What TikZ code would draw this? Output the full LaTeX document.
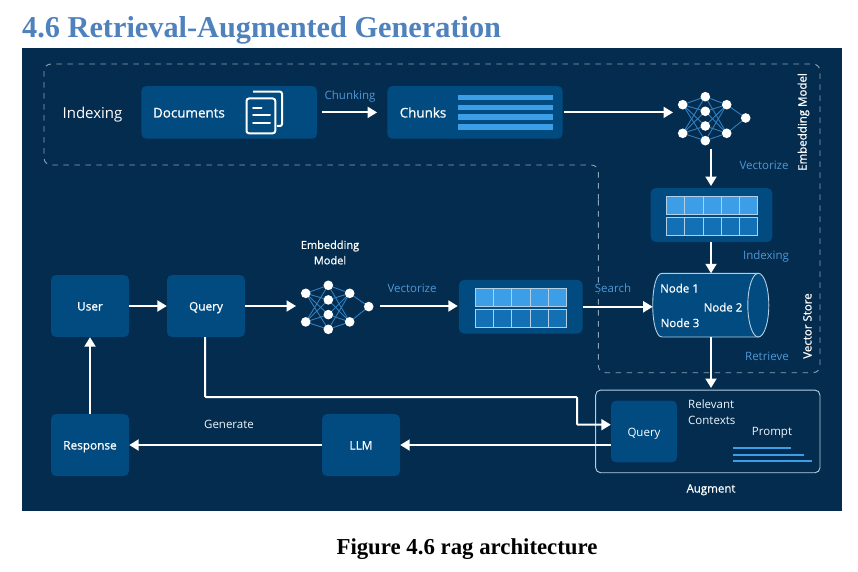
\documentclass[tikz,border=0pt]{standalone}
\usepackage{fontspec}
\setmainfont{Open Sans}
\newfontfamily\serifbold[BoldFont={Liberation Serif Bold}]{Liberation Serif}
\newfontfamily\semi[FakeBold=0.7]{Open Sans}
\usetikzlibrary{arrows.meta}
\definecolor{panelbg}{HTML}{042C4E}
\definecolor{boxblue}{HTML}{024B80}
\definecolor{barblue}{HTML}{3D9EE8}
\definecolor{rowblue}{HTML}{1470B5}
\definecolor{labelblue}{HTML}{4F97D7}
\definecolor{dashgrey}{HTML}{8AA3B5}
\definecolor{edgepale}{HTML}{B4CFE3}
\definecolor{netblue}{HTML}{2F7FC0}
\definecolor{titleblue}{HTML}{4F81BD}
\tikzset{
  x=1pt,y=-1pt,
  boxnode/.style={fill=boxblue,rounded corners=5pt,inner sep=0pt,text=white,font=\semi\fontsize{11.8}{14}\selectfont,align=center,text height=9pt,text depth=0pt},
  flow/.style={draw=white,line width=2pt,-{Triangle[length=9.5pt,width=11pt]}},
  tag/.style={text=labelblue,font=\fontsize{11.5}{14}\selectfont,inner sep=0pt,text height=9pt,text depth=0pt},
  whitetag/.style={text=white,font=\semi\fontsize{11.5}{14}\selectfont,inner sep=0pt,text height=9pt,text depth=0pt},
  bigtag/.style={whitetag,font=\semi\fontsize{13.4}{16}\selectfont},
  whitestack/.style={text=white,font=\semi\fontsize{11}{15.5}\selectfont,inner sep=0pt,align=center},
  paletag/.style={text=white!90!labelblue,font=\fontsize{11.5}{16}\selectfont,inner sep=0pt,align=left},
  dashline/.style={draw=dashgrey,line width=0.9pt,dash pattern=on 5.5pt off 5.5pt},
  neuron/.style={circle,fill=white,minimum size=9.6pt,inner sep=0pt},
  synapse/.style={draw=netblue,line width=0.9pt},
  cell/.style={draw=edgepale,line width=0.6pt,minimum width=18.06pt,minimum height=18pt,inner sep=0pt},
  bar/.style={fill=barblue,inner sep=0pt},
  pline/.style={draw=barblue,line width=2.2pt},
  docline/.style={draw=white,line width=2pt,line cap=round}
}
% net: prefix, dx, dy
\newcommand{\netdraw}[3]{%
  \begin{scope}[shift={(#2,#3)}]
    \coordinate (#1a1) at (682.7,104.7);
    \coordinate (#1a2) at (682.7,133.3);
    \coordinate (#1b1) at (705.3,96.7);
    \coordinate (#1b2) at (705.3,111.3);
    \coordinate (#1b3) at (705.3,126);
    \coordinate (#1b4) at (705.3,140.7);
    \coordinate (#1c1) at (726.7,104.7);
    \coordinate (#1c2) at (726.7,133.3);
    \coordinate (#1d) at (745.7,118);
    \foreach \i in {1,2}{\foreach \j in {1,2,3,4}{
      \draw[synapse] (#1a\i) -- (#1b\j);
      \draw[synapse] (#1b\j) -- (#1c\i);}
      \draw[synapse] (#1c\i) -- (#1d);}
    \foreach \n in {a1,a2,b1,b2,b3,b4,c1,c2,d}
      \node[neuron] (#1n\n) at (#1\n) {};
  \end{scope}}
% vector block: prefix, centre x of first cell, y first row centre, y second row centre
\newcommand{\cellrows}[4]{%
  \foreach \k in {0,1,2,3,4}{
    \node[cell,fill=barblue] (#1t\k) at ({#2+\k*18.06},#3) {};
    \node[cell,fill=rowblue] (#1u\k) at ({#2+\k*18.06},#4) {};}}
\begin{document}
\begin{tikzpicture}
\useasboundingbox (0,0) rectangle (858,572);
\fill[white] (0,0) rectangle (858,572);
\fill[panelbg] (22,48) rectangle (842,511);
\node[anchor=base west,inner sep=0pt,text=titleblue,font=\serifbold\bfseries\fontsize{30.3}{34}\selectfont] (title) at (22,38) {4.6 Retrieval-Augmented Generation};
\node[anchor=base,inner sep=0pt,text=black,font=\serifbold\bfseries\fontsize{22.8}{26}\selectfont] (caption) at (467,554) {Figure 4.6 rag architecture};
% dashed region
\draw[dashline,rounded corners=7pt] (598.3,200) -- (598.3,372.7) -- (820,372.7) -- (820,64) -- (44,64) -- (44,165) -- (598.3,165) [sharp corners] -- (598.3,200);
% boxes
\node[boxnode,minimum width=175.7pt,minimum height=52.7pt] (docs) at (229.2,112.4) {};
\node[boxnode,minimum width=175.4pt,minimum height=52.7pt] (chunks) at (475,112.4) {};
\node[boxnode,minimum width=121.6pt,minimum height=54pt] (vecA) at (711.5,215) {};
\node[boxnode,minimum width=123.7pt,minimum height=53.7pt] (vecB) at (520.8,306.8) {};
\node[boxnode,minimum width=78pt,minimum height=62pt] (user) at (90,306) {User};
\node[boxnode,minimum width=78pt,minimum height=62pt] (query) at (206,306) {Query};
\node[boxnode,minimum width=78pt,minimum height=62pt] (resp) at (90,445) {Response};
\node[boxnode,minimum width=78pt,minimum height=62pt] (llm) at (361,445) {LLM};
\node[draw=edgepale,line width=0.9pt,rounded corners=5pt,minimum width=224.3pt,minimum height=82.7pt,inner sep=0pt] (aug) at (707.8,431.4) {};
\node[boxnode,minimum width=66pt,minimum height=61.6pt,font=\fontsize{11.5}{14}\selectfont] (qinner) at (644,431.5) {Query};
% chunk bars
\foreach \yy/\nm in {97.3/a,107.3/b,117.2/c,127.2/d}
  \node[bar,minimum width=95pt,minimum height=5.4pt] (bar\nm) at (505.2,\yy) {};
% cells
\cellrows{va}{675.7}{205}{226.3}
\cellrows{vb}{484.7}{297}{318.5}
% document icon
\draw[white,line width=2pt,rounded corners=2pt] (253,91.7) -- (282,91.7) -- (282,126) -- (277,126);
\draw[white,line width=2pt,rounded corners=2.5pt] (246.5,98.5) rectangle (275.3,133.3);
\draw[docline] (253,108) -- (261.5,108);
\draw[docline] (253,115.3) -- (270,115.3);
\draw[docline] (253,122.7) -- (270,122.7);
% nets
\netdraw{p}{0}{0}
\netdraw{q}{-377}{188.6}
% cylinder
\draw[draw=edgepale,fill=boxblue,line width=0.9pt] (758.3,273.3) -- (662,273.3) .. controls (649.6,273.3) and (649.6,337) .. (662,337) -- (758.3,337) -- cycle;
\draw[draw=edgepale,fill=boxblue,line width=0.9pt] (758.3,305.15) ellipse [x radius=10.5pt,y radius=31.85pt];
\node[inner sep=0pt,minimum width=116pt,minimum height=63.7pt] (cyl) at (711,305.15) {};
% prompt lines
\coordinate (pa1) at (733,448); \coordinate (pa2) at (791.3,448);
\coordinate (pb1) at (733,454.7); \coordinate (pb2) at (803.7,454.7);
\coordinate (pc1) at (733,461.3); \coordinate (pc2) at (811.7,461.3);
\draw[pline] (pa1) -- (pa2);
\draw[pline] (pb1) -- (pb2);
\draw[pline] (pc1) -- (pc2);
% labels
\node[text=white,inner sep=0pt,font=\fontsize{15}{18}\selectfont,text height=11pt,text depth=0pt] (lindex) at (92.5,113) {Indexing};
\node[bigtag] (ldocs) at (189,113) {Documents};
\node[bigtag] (lchunks) at (423,113) {Chunks};
\node[tag] (lchunking) at (350,95) {Chunking};
\node[whitetag,rotate=90] (lem) at (802,122) {Embedding Model};
\node[tag] (lvec1) at (764,165) {Vectorize};
\node[tag] (lidx) at (766,255) {Indexing};
\node[whitestack] (lem2) at (330,252.5) {Embedding\\Model};
\node[tag] (lvec2) at (412,288) {Vectorize};
\node[tag,fill=panelbg] (lsearch) at (613,288) {Search};
\node[whitetag] (ln1) at (679.5,288) {Node 1};
\node[whitetag] (ln2) at (723,307) {Node 2};
\node[whitetag] (ln3) at (680,322.6) {Node 3};
\node[tag] (lret) at (767,356) {Retrieve};
\node[whitetag,rotate=90] (lvs) at (807,326) {Vector Store};
\node[paletag,anchor=west] (lrel) at (688,412) {Relevant\\Contexts};
\node[paletag] (lprompt) at (772,432.6) {Prompt};
\node[whitetag] (laug) at (711,488) {Augment};
\node[paletag] (lgen) at (229,424) {Generate};
% connector end points
\coordinate (netAin) at (673,112.4);
\coordinate (netAout) at (711,149);
\coordinate (netBin) at (296,306);
\coordinate (netBout) at (380,306);
\coordinate (bend1) at (205,397);
\coordinate (bend2) at (577,397);
\coordinate (bend3) at (577,424.7);
\coordinate (qfrom) at (205,337);
\coordinate (qin) at (qinner.west |- bend3);
\coordinate (llmout) at (qinner.west |- llm.east);
\coordinate (veca) at (711,188);
\coordinate (vecb) at (711,242);
\coordinate (cyltop) at (711,273.3);
\coordinate (cylbot) at (711,337);
\coordinate (augtop) at (711,388);
\coordinate (cylleft) at (652.7,306.8);
% connectors
\draw[flow,shorten <=5pt,shorten >=10pt] (docs.east) -- (chunks.west);
\draw[flow,shorten <=1.5pt] (chunks.east) -- (netAin);
\draw[flow,shorten >=2pt] (netAout) -- (veca);
\draw[flow] (vecb) -- (cyltop);
\draw[flow] (user.east) -- (query.west);
\draw[flow] (query.east) -- (netBin);
\draw[flow,shorten >=1pt] (netBout) -- (netBout -| vecB.west);
\draw[flow] (vecB.east) -- (cylleft);
\draw[flow] (cylbot) -- (augtop);
\draw[flow,rounded corners=1pt] (qfrom) -- (bend1) -- (bend2) -- (bend3) -- (qin);
\draw[flow] (llmout) -- (llm.east);
\draw[flow] (llm.west) -- (resp.east);
\draw[flow] (resp.north) -- (user.south);
\end{tikzpicture}
\end{document}
